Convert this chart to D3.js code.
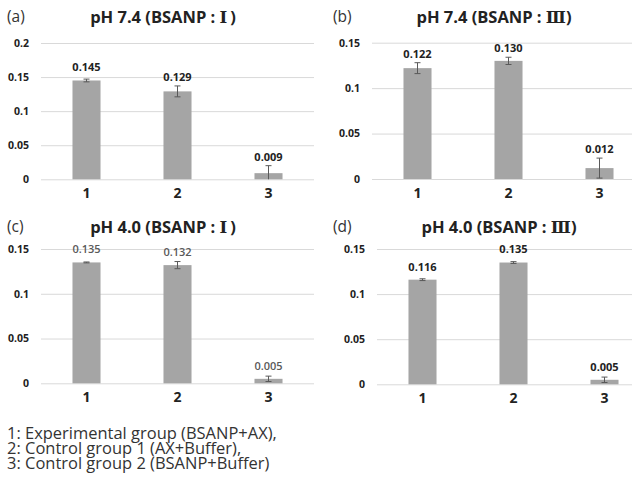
<!DOCTYPE html>
<html>
<head>
<meta charset="utf-8">
<script src="https://cdn.jsdelivr.net/npm/d3@7"></script>
<style>
  body { margin: 0; background: #fff; }
</style>
</head>
<body>
<div id="chart"></div>
<script>
// data
const groups = ["1", "2", "3"]
const titles = ["pH 7.4 (BSANP : Ⅰ)", "pH 7.4 (BSANP : Ⅲ)", "pH 4.0 (BSANP : Ⅰ)", "pH 4.0 (BSANP : Ⅲ)"]
const letters = ["(a)", "(b)", "(c)", "(d)"]
const valA = [0.145, 0.129, 0.009]
const errA = [0.002, 0.008, 0.011]
const valB = [0.122, 0.130, 0.012]
const errB = [0.006, 0.004, 0.011]
const valC = [0.135, 0.132, 0.005]
const errC = [0.0005, 0.004, 0.003]
const valD = [0.116, 0.135, 0.005]
const errD = [0.001, 0.001, 0.003]
const labA = ["0.145", "0.129", "0.009"]
const labB = ["0.122", "0.130", "0.012"]
const labC = ["0.135", "0.132", "0.005"]
const labD = ["0.116", "0.135", "0.005"]
const ticksA = [0, 0.05, 0.1, 0.15, 0.2]
const ticksB = [0, 0.05, 0.1, 0.15]
const legendLines = ["1: Experimental group (BSANP+AX),", "2: Control group 1 (AX+Buffer),", "3: Control group 2 (BSANP+Buffer)"]

const ancho = 632, alto = 478
const fuente = "Open Sans"

// panel layout (pixel positions only)
const paneles = [
  {vals: valA, errs: errA, labs: labA, ticks: ticksA, max: 0.2, x0: 41, x1: 314, yTop: 43, y0: 179.3, letraX: 7, tituloY: 17, labColor: "#222", labWeight: "bold"},
  {vals: valB, errs: errB, labs: labB, ticks: ticksB, max: 0.15, x0: 372, x1: 645, yTop: 42.7, y0: 179, letraX: 333, tituloY: 17, labColor: "#222", labWeight: "bold"},
  {vals: valC, errs: errC, labs: labC, ticks: ticksB, max: 0.15, x0: 41, x1: 314, yTop: 249, y0: 383.3, letraX: 7, tituloY: 227, labColor: "#595959", labWeight: 600},
  {vals: valD, errs: errD, labs: labD, ticks: ticksB, max: 0.15, x0: 377, x1: 650, yTop: 249, y0: 384.3, letraX: 333, tituloY: 227, labColor: "#222", labWeight: "bold"}
]

const svg = d3.select("#chart").append("svg").attr("width", ancho).attr("height", alto)
  .attr("font-family", fuente)

paneles.forEach((p, k) => {
  const g = svg.append("g")
  const x = d3.scaleBand().domain(groups).range([p.x0, p.x1]).paddingInner(0.692).paddingOuter(0.346)
  const y = d3.scaleLinear().domain([0, p.max]).range([p.y0, p.yTop])

  // grid + y labels
  const ejeY = g.append("g").attr("transform", `translate(${p.x0},0)`)
    .call(d3.axisLeft(y).tickValues(p.ticks).tickFormat(d => String(+d.toFixed(2)))
      .tickSize(-(p.x1 - p.x0)).tickPadding(12))
  ejeY.attr("font-family", fuente)
  ejeY.select(".domain").remove()
  ejeY.selectAll("line").attr("stroke", "#d9d9d9")
  ejeY.selectAll("text").attr("font-size", 10.5).attr("font-weight", "bold").attr("fill", "#222")

  // x labels
  const ejeX = g.append("g").attr("transform", `translate(0,${p.y0})`)
    .call(d3.axisBottom(x).tickSize(0).tickPadding(9))
  ejeX.attr("font-family", fuente)
  ejeX.select(".domain").remove()
  ejeX.selectAll("text").attr("font-size", 14).attr("font-weight", "bold").attr("fill", "#222")

  const datos = groups.map((c, i) => ({c, v: p.vals[i], e: p.errs[i], l: p.labs[i]}))

  // bars
  g.selectAll("rect.bar").data(datos).enter().append("rect")
    .attr("class", "bar")
    .attr("x", d => x(d.c))
    .attr("width", x.bandwidth())
    .attr("y", d => y(d.v))
    .attr("height", d => y(0) - y(d.v))
    .attr("fill", "#a5a5a5")

  // error bars
  const eb = g.selectAll("g.err").data(datos).enter().append("g").attr("class", "err")
    .attr("stroke", "#595959").attr("stroke-width", 1)
  const cx = d => x(d.c) + x.bandwidth() / 2
  eb.append("line").attr("x1", cx).attr("x2", cx)
    .attr("y1", d => y(d.v + d.e)).attr("y2", d => y(Math.max(0, d.v - d.e)))
  eb.append("line").attr("x1", d => cx(d) - 3).attr("x2", d => cx(d) + 3)
    .attr("y1", d => y(d.v + d.e)).attr("y2", d => y(d.v + d.e))
  eb.filter(d => d.v - d.e > 0).append("line").attr("x1", d => cx(d) - 3).attr("x2", d => cx(d) + 3)
    .attr("y1", d => y(d.v - d.e)).attr("y2", d => y(d.v - d.e))

  // value labels
  g.selectAll("text.val").data(datos).enter().append("text")
    .attr("class", "val")
    .attr("x", cx)
    .attr("y", d => Math.min(y(d.v) - 13, y(d.v + d.e) - 9))
    .attr("dy", "0.35em")
    .attr("text-anchor", "middle")
    .attr("font-size", 11)
    .attr("font-weight", p.labWeight)
    .attr("fill", p.labColor)
    .text(d => d.l)

  // title (numeral in a serif face) and letter
  const tit = g.append("text").attr("x", p.x0 + 122).attr("y", p.tituloY).attr("dy", "0.35em")
    .attr("text-anchor", "middle")
    .attr("font-size", 16.5).attr("font-weight", "bold").attr("fill", "#222")
  titles[k].split(/([ⅠⅢ])/).filter(s => s.length).forEach(s => {
    const t = tit.append("tspan").text(s)
    if (/[ⅠⅢ]/.test(s)) t.attr("font-family", "DejaVu Serif")
    if (s === ")" && titles[k].includes("Ⅰ")) t.attr("dx", 3)
  })
  g.append("text").attr("x", p.letraX).attr("y", p.tituloY).attr("dy", "0.35em")
    .attr("font-size", 15.5).attr("fill", "#333")
    .text(letters[k])
})

// legend
const leyenda = svg.append("g").selectAll("text").data(legendLines).enter().append("text")
  .attr("x", 7)
  .attr("y", (d, i) => 439 + i * 15.2)
  .attr("font-size", 14)
  .attr("fill", "#333")
  .text(d => d)
// ajustar tamaño para que la linea mas larga mida ~270px
const largo = d3.max(leyenda.nodes(), n => n.getComputedTextLength())
leyenda.attr("font-size", 14 * 270 / largo)
</script>
</body>
</html>
